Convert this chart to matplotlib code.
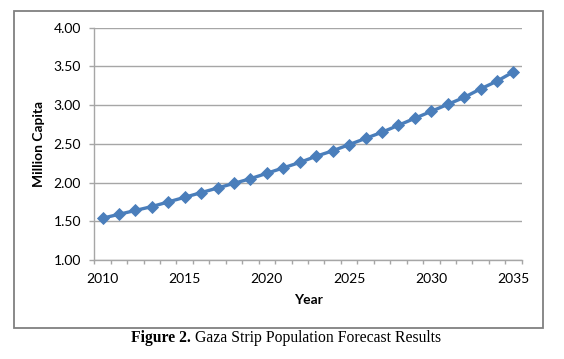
import matplotlib
matplotlib.use("Agg")
import matplotlib.pyplot as plt
from matplotlib.patches import Rectangle
from matplotlib.ticker import FixedLocator

years = list(range(2010, 2036))
population = [1.54, 1.59, 1.64, 1.69, 1.75, 1.81, 1.87, 1.93, 1.99, 2.05,
              2.12, 2.19, 2.26, 2.34, 2.41, 2.49, 2.57, 2.65, 2.74, 2.83,
              2.92, 3.01, 3.10, 3.21, 3.31, 3.43]
label_years = [2010, 2015, 2020, 2025, 2030, 2035]
y_ticks = [1.00, 1.50, 2.00, 2.50, 3.00, 3.50, 4.00]

W, H = 564, 359
fig = plt.figure(figsize=(W / 100, H / 100), dpi=100)
fig.patch.set_facecolor("white")

def fx(px):
    return px / W

def fy(py):
    return 1 - py / H

# outer chart border
fig.patches.append(Rectangle((fx(13.5), fy(327.7)), fx(543) - fx(13.5), fy(11) - fy(327.7),
                             transform=fig.transFigure, fill=False,
                             edgecolor="#808080", linewidth=1.3))

left, right, top, bottom = 94.3, 521.7, 27.7, 260
ax = fig.add_axes([fx(left), fy(bottom), fx(right) - fx(left), fy(top) - fy(bottom)])

ax.plot(years, population, color="#4A7EBB", linewidth=2.4, marker="D",
        markersize=6, markerfacecolor="#4A7EBB", markeredgecolor="#4A7EBB",
        markeredgewidth=0.6, zorder=3, clip_on=False)

ax.set_xlim(years[0] - 0.5, years[-1] + 0.5)
ax.set_ylim(1.0, 4.0)
ax.set_yticks(y_ticks)
ax.set_yticklabels([f"{v:.2f}" for v in y_ticks])
ax.xaxis.set_major_locator(FixedLocator(label_years))
ax.set_xticklabels([str(y) for y in label_years])
ax.xaxis.set_minor_locator(FixedLocator([y - 0.5 for y in years] + [years[-1] + 0.5]))

ax.grid(axis="y", color="#A6A6A6", linewidth=1.0)
ax.set_axisbelow(True)
for s in ["top", "right"]:
    ax.spines[s].set_visible(False)
for s in ["left", "bottom"]:
    ax.spines[s].set_color("#A6A6A6")
    ax.spines[s].set_linewidth(1.0)

font = "Lato"
ax.tick_params(axis="y", length=3.5, width=1.0, color="#A6A6A6", pad=6,
               labelsize=10, labelcolor="black")
ax.tick_params(axis="x", which="major", length=0, pad=9.5, labelsize=10, labelcolor="black")
ax.tick_params(axis="x", which="minor", length=3.2, width=1.0, color="#A6A6A6")
for lbl in ax.get_xticklabels() + ax.get_yticklabels():
    lbl.set_fontfamily(font)

ax.set_xlabel("Year", fontfamily=font, fontweight="bold", fontsize=10, labelpad=6)
ax.set_ylabel("Million Capita", fontfamily=font, fontweight="bold", fontsize=10, labelpad=6)

# caption
t1 = fig.text(fx(131), fy(346), "Figure 2.", fontfamily="Liberation Serif",
              fontweight="bold", fontsize=11.3, ha="left", va="bottom")
ax.annotate(" Gaza Strip Population Forecast Results", xy=(1, 0), xycoords=t1,
            ha="left", va="bottom", fontfamily="Liberation Serif", fontsize=11.3,
            annotation_clip=False)

fig.savefig("out.png", dpi=100, facecolor="white")
